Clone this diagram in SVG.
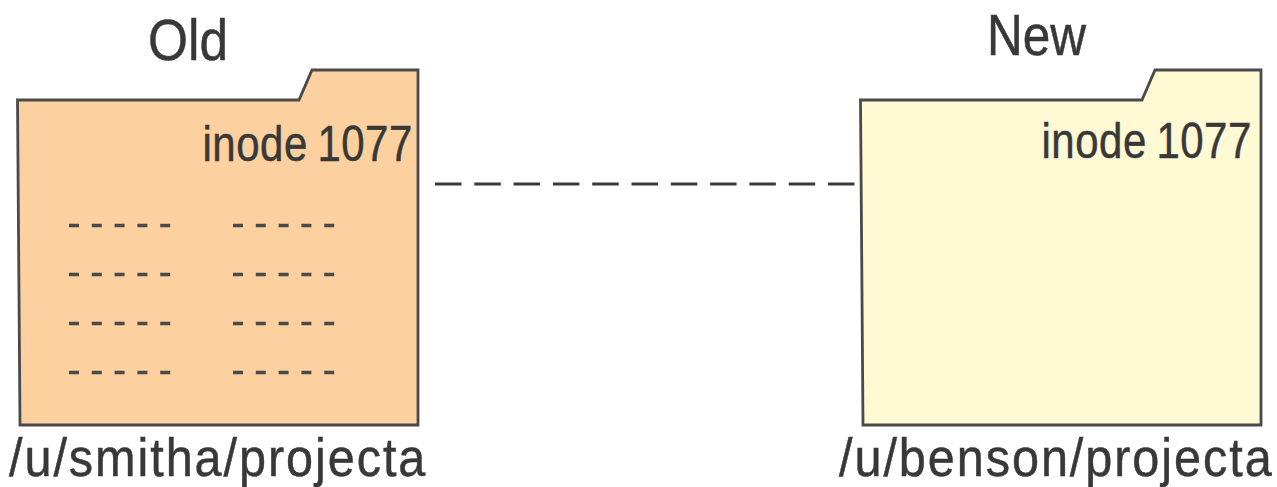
<svg xmlns="http://www.w3.org/2000/svg" width="1277" height="487" viewBox="0 0 1277 487">
<style>
.folder{stroke:#4a4a4a;stroke-width:2.8;stroke-linejoin:miter}
.t{font-family:"Liberation Sans",Arial,sans-serif;fill:#383838;stroke:#383838;stroke-width:.5}
.big{font-size:58px}
.mid{font-size:50px;word-spacing:-3px;letter-spacing:.6px}
.path{font-size:54px;letter-spacing:2.150px}
.d{stroke:#4a4a4a;stroke-width:3.600;fill:none;stroke-dasharray:10 12.8}
.c{stroke:#3a3a3a;stroke-width:3;fill:none;stroke-dasharray:26.500 12.800}
</style>
<rect width="1277" height="487" fill="#ffffff"/>
<g id="old-folder">
<path class="folder" fill="#fdd09f" d="M17.500 100H299L312 70H418V425H20Z"/>
<text class="t big" x="148" y="60" textLength="80" lengthAdjust="spacingAndGlyphs">Old</text>
<text class="t mid" transform="translate(202.500 160.500) scale(.84 1)">inode 1077</text>
<text class="t path" transform="translate(9 476) scale(.9 1)">/u/smitha/projecta</text>
<g class="d">
<path d="M69 225.500H171M233 225.500H335"/>
<path d="M69 274.500H171M233 274.500H335"/>
<path d="M69 323.500H171M233 323.500H335"/>
<path d="M69 372.500H171M233 372.500H335"/>
</g>
</g>
<g id="new-folder">
<path class="folder" fill="#fff9d4" d="M860.500 100H1142L1155 70H1261V425H863Z"/>
<text class="t big" x="987" y="55" textLength="99" lengthAdjust="spacingAndGlyphs">New</text>
<text class="t mid" transform="translate(1041.500 157.500) scale(.84 1)">inode 1077</text>
<text class="t path" transform="translate(839 476) scale(.9 1)">/u/benson/projecta</text>
</g>
<g id="connectors">
<path class="c" d="M435 184H855"/>
</g>
</svg>
